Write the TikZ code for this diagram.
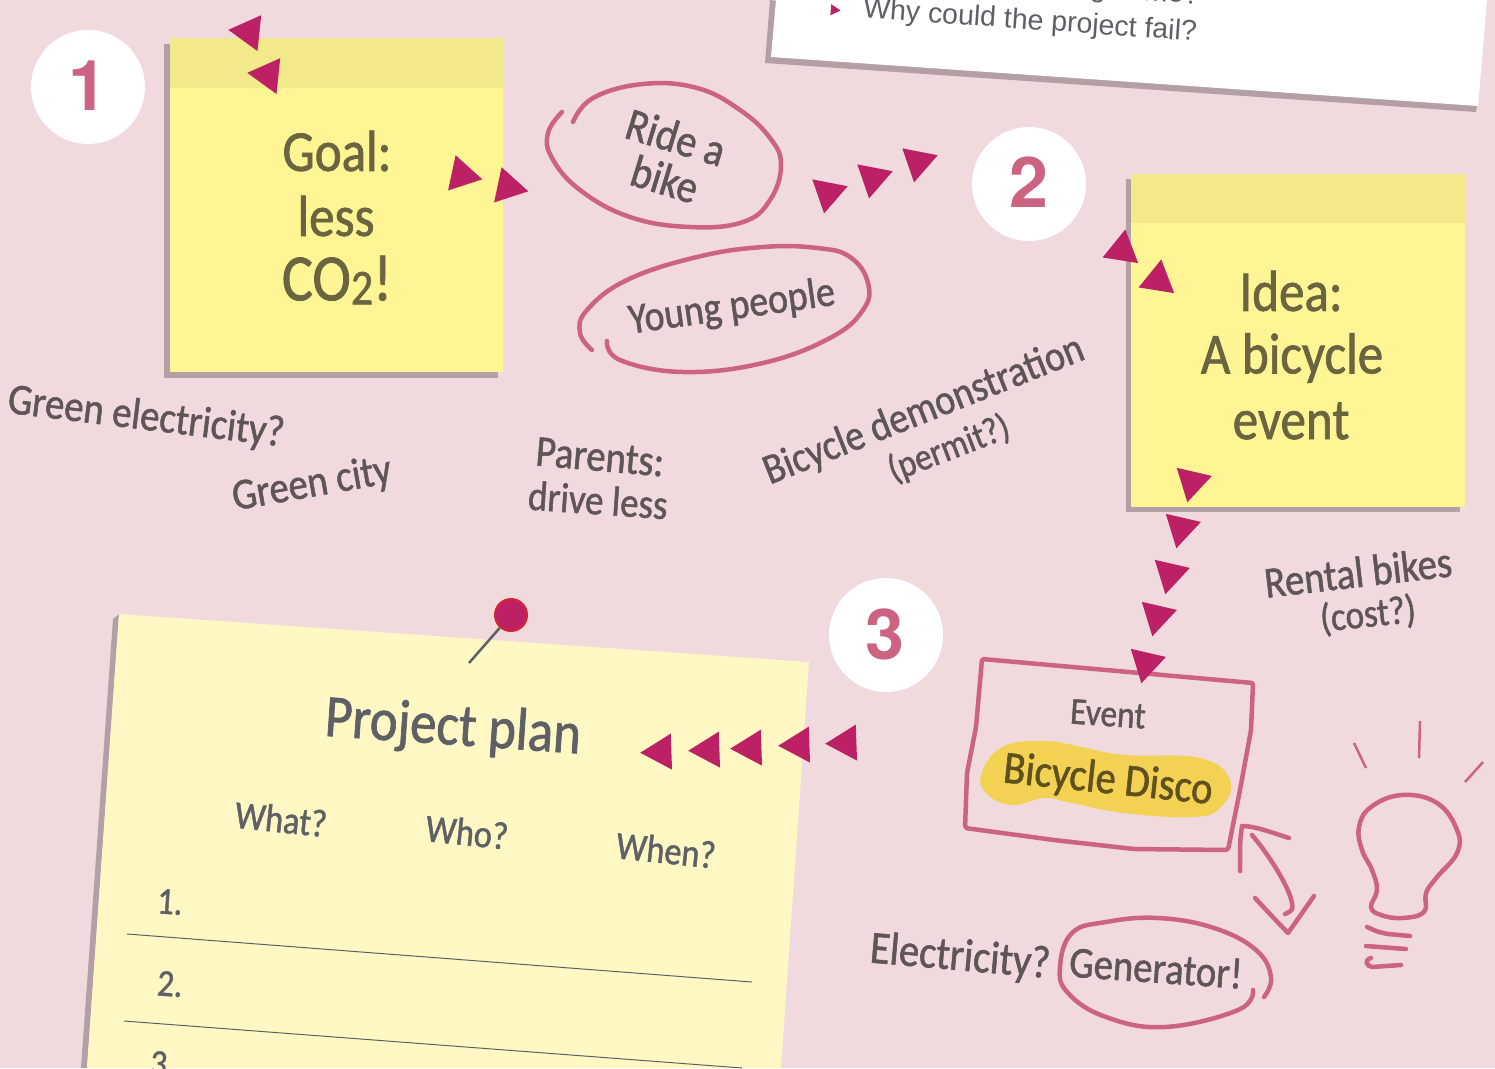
\documentclass[tikz,border=0pt]{standalone}
\usepackage{fontspec}
\usetikzlibrary{shapes.geometric}
\newfontfamily\handfont[FakeStretch=0.88,FakeBold=1.2]{Carlito}
\newfontfamily\numfont{Liberation Sans}
\newfontfamily\digitfont{TeX Gyre Heros}
\definecolor{bgpink}{HTML}{F0DADE}
\definecolor{shadowgrey}{HTML}{B3A0A5}
\definecolor{noteyellow}{HTML}{FFF594}
\definecolor{bandyellow}{HTML}{F2E98B}
\definecolor{sheetyellow}{HTML}{FFF8C4}
\definecolor{sketchpink}{HTML}{CC6383}
\definecolor{tripink}{HTML}{BC2166}
\definecolor{pinred}{HTML}{D9232E}
\definecolor{inkgrey}{HTML}{5E5558}
\definecolor{sheetgrey}{HTML}{5E6066}
\definecolor{noteink}{HTML}{6B6440}
\definecolor{discoink}{HTML}{5F5020}
\definecolor{discoyellow}{HTML}{F2D153}
\tikzset{
  tri/.style={regular polygon,regular polygon sides=3,fill=tripink,inner sep=0pt,outer sep=0pt,minimum size=41.6pt,rotate=#1-90},
  numdot/.style={circle,fill=white,inner sep=0pt,minimum size=114pt,text=sketchpink,font=\digitfont\bfseries\fontsize{70}{70}\selectfont},
  hand/.style={font=\handfont\fontsize{#1}{#1}\selectfont,text=inkgrey,inner sep=0pt,align=center},
  notetxt/.style={font=\handfont\fontsize{#1}{#1}\selectfont,text=noteink,inner sep=0pt,align=center},
  sheettxt/.style={font=\handfont\fontsize{#1}{#1}\selectfont,text=sheetgrey,inner sep=0pt,align=center},
  sketch/.style={draw=sketchpink,line width=4.5pt,line cap=round,line join=round}
}
\begin{document}
\begin{tikzpicture}[x=1pt,y=-1pt]
\useasboundingbox (0,0) rectangle (1495,1068);
\clip (0,0) rectangle (1495,1068);
\fill [bgpink] (0,0) rectangle (1495,1068);

% paper at the top
\fill [shadowgrey] (770,0) -- (765,63) -- (1476,112) -- (1478,100) -- cycle;
\fill [white] (776,0) -- (771,57) -- (1478,106) -- (1487,0) -- cycle;
\node (bullet) [tri=-4,minimum size=13pt] at (834,10) {};
\node (why) [rotate=-4,font=\numfont\fontsize{28.5}{28.5}\selectfont,text=sheetgrey,inner sep=0pt] at (1030,22) {Why could the project fail?};
\node (time) [rotate=-4,font=\numfont\fontsize{28.5}{28.5}\selectfont,text=sheetgrey,inner sep=0pt] at (1145,-7) {gh time?};

% first note
\fill [shadowgrey] (164,44) rectangle (498,378);
\fill [noteyellow] (170,38) rectangle (503,372);
\fill [bandyellow] (170,38) rectangle (503,88);
\node (goal) [notetxt=58] at (337,151) {Goal:};
\node (less) [notetxt=58] at (336,216) {less};
\node (co) [notetxt=66] at (337,280) {CO\raisebox{-4pt}{\fontsize{50}{50}\selectfont 2}!};

% second note
\fill [shadowgrey] (1126,179) rectangle (1460,512);
\fill [noteyellow] (1131,174) rectangle (1465,507);
\fill [bandyellow] (1131,174) rectangle (1465,223);
\node (idea) [notetxt=58] at (1291,291) {Idea:};
\node (bicycle) [notetxt=58] at (1292,358) {A bicycle};
\node (event) [notetxt=58] at (1291,421) {event};

% numbers
\node (one) [numdot] at (88,87) {\raisebox{3pt}{\hspace{-1pt}1}};
\node (two) [numdot] at (1029,184) {\raisebox{3pt}{2}};
\node (three) [numdot] at (886,635) {\raisebox{1pt}{\hspace{-3pt}3}};

% ideas around the notes
\draw [sketch] plot [smooth,tension=0.7] coordinates {(573,122) (593,98) (643,84) (697,88) (740,110) (770,138) (781,165) (770,200) (743,222) (690,227) (630,217) (580,190) (552,158) (548,133) (562,112)};
\node (ride) [hand=46,rotate=-17] at (676,137) {Ride a};
\node (bike) [hand=46,rotate=-17] at (665,179) {bike};
\draw [sketch] plot [smooth,tension=0.7] coordinates {(607,341) (620,360) (683,372) (763,363) (830,338) (863,310) (868,283) (850,257) (817,248) (763,247) (697,257) (627,280) (587,310) (580,333) (592,350)};
\node (young) [hand=43,rotate=8] at (732,308) {Young people};
\node (greenel) [hand=44,rotate=-7] at (146,418) {Green electricity?};
\node (greencity) [hand=44,rotate=10] at (312,485) {Green city};
\node (parents) [hand=44,rotate=-5] at (600,457) {Parents:};
\node (drive) [hand=42,rotate=-4] at (598,500) {drive less};
\node (demo) [hand=43,rotate=21.7] at (924,411) {Bicycle demonstration};
\node (permit) [hand=38,rotate=21] at (949,449) {(permit?)};
\node (rental) [hand=44,rotate=6.6] at (1358,572) {Rental bikes};
\node (cost) [hand=40,rotate=6] at (1368,615) {(cost?)};

% event box
\draw [sketch,rounded corners=2pt] (982,659) -- (1253,683) -- (1251,730) -- (1240,790) -- (1228,850) -- (1134,849) -- (1054,840) -- (965,828) -- (967,773) -- (976,727) -- cycle;
\fill [discoyellow] plot [smooth cycle,tension=0.7] coordinates {(981,775) (1002,747) (1044,741) (1082,747) (1124,755) (1200,758) (1230,780) (1221,807) (1193,817) (1124,813) (1072,803) (1044,798) (1013,805) (988,795)};
\node (eventlab) [hand=38,rotate=-4] at (1108,714) {Event};
\node (disco) [hand=46,rotate=-6,text=discoink] at (1108,781) {Bicycle Disco};

% generator
\node (electricity) [hand=46,rotate=-5] at (960,958) {Electricity?};
\node (generator) [hand=44,rotate=-4] at (1156,968) {Generator!};
\draw [sketch] plot [smooth,tension=0.7] coordinates {(1253,990) (1238,1010) (1165,1027) (1106,1017) (1068,993) (1060,967) (1072,933) (1106,922) (1158,918) (1214,928) (1256,950) (1271,977) (1264,997)};
\coordinate (toptip) at (1242,826);
\coordinate (bottip) at (1288,933);
\draw [sketch] (1252,835) .. controls (1273,860) and (1290,890) .. (1292,903) .. controls (1293,910) .. (1285,914);
\draw [sketch] (1289,838) .. controls (1270,832) and (1255,826) .. (toptip) .. controls (1240,840) .. (1240,871);
\draw [sketch] (1255,898) .. controls (1268,912) .. (bottip) -- (1314,896);

% bulb
\draw [sketch] plot [smooth cycle,tension=0.7] coordinates {(1371,907) (1377,890) (1372,870) (1362,850) (1359,827) (1371,807) (1402,795) (1437,803) (1457,830) (1457,853) (1437,877) (1426,893) (1424,912) (1402,918) (1381,915)};
\draw [sketch] (1367,927) .. controls (1378,932) .. (1388,934) -- (1410,936);
\draw [sketch] (1366,946) -- (1406,949);
\draw [sketch] (1371,958) .. controls (1364,960) and (1366,966) .. (1372,967) -- (1401,965);
\draw [draw=sketchpink,line width=2.5pt] (1354,743) -- (1366,768);
\draw [draw=sketchpink,line width=2.5pt] (1420,721) -- (1419,758);
\draw [draw=sketchpink,line width=2.5pt] (1483,762) -- (1465,782);

% project plan sheet
\fill [shadowgrey] (113,619) -- (119,614) -- (87,1068) -- (81,1068) -- cycle;
\fill [sheetyellow] (119,614) -- (809,662) -- (781,1068) -- (87,1068) -- cycle;
\node (plan) [sheettxt=60,rotate=-4] at (453,729) {Project plan};
\node (what) [sheettxt=39,rotate=-6] at (281,819) {What?};
\node (who) [sheettxt=39,rotate=-6] at (467,832) {Who?};
\node (when) [sheettxt=39,rotate=-6] at (666,850) {When?};
\node (numa) [sheettxt=38,rotate=-4] at (170,902) {1.};
\node (numb) [sheettxt=38,rotate=-4] at (170,984) {2.};
\node (numc) [sheettxt=38,rotate=-4] at (163,1064) {3.};
\draw [sheetgrey,line width=1pt] (127,934) -- (752,982);
\draw [sheetgrey,line width=1pt] (124,1021) -- (742,1068);
\node (pin) [circle,fill=tripink,draw=pinred,line width=2pt,minimum size=32pt,inner sep=0pt] at (511,615) {};
\coordinate (pintip) at (469,663);
\draw [sheetgrey,line width=2.5pt] (pin) -- (pintip);

% triangles
\node (ta) [tri=174] at (249,32) {};
\node (tb) [tri=174] at (268,75) {};
\node (tc) [tri=-12] at (462,175) {};
\node (td) [tri=-12] at (508,187) {};
\node (te) [tri=-101] at (828,193) {};
\node (tf) [tri=-101] at (873,178) {};
\node (tg) [tri=-101] at (918,162) {};
\node (th) [tri=81] at (1122,250) {};
\node (ti) [tri=81] at (1158,280) {};
\node (tj) [tri=-103] at (1192,482) {};
\node (tk) [tri=-103] at (1181,528) {};
\node (tl) [tri=-103] at (1170,574) {};
\node (tm) [tri=-103] at (1157,616) {};
\node (tn) [tri=-103] at (1146,663) {};
\node (to) [tri=182] at (661,752) {};
\node (tp) [tri=182] at (709,750) {};
\node (tq) [tri=182] at (751,748) {};
\node (tr) [tri=182] at (799,745) {};
\node (ts) [tri=182] at (846,743) {};
\end{tikzpicture}
\end{document}
